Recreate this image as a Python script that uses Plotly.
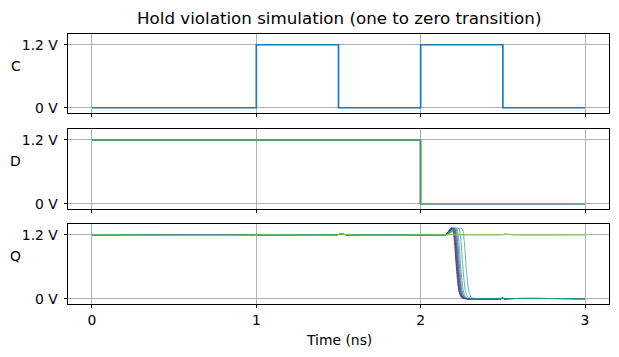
import plotly.graph_objects as go
from plotly.colors import sample_colorscale

# ---------------- data ----------------
title_text = "Hold violation simulation (one to zero transition)"
row_labels = ["C", "D", "Q"]
x_ticks = [0, 1, 2, 3]
y_tick_vals = [0, 1.2]
y_tick_text = ["0 V", "1.2 V"]

# clock
c_t = [0.0, 1.0, 1.0, 1.5, 1.5, 2.0, 2.0, 2.5, 2.5, 3.0]
c_v = [0.0, 0.0, 1.2, 1.2, 0.0, 0.0, 1.2, 1.2, 0.0, 0.0]

# colour positions of the sweep (viridis)
sweep_pos = [0.0, 0.07, 0.13, 0.19, 0.25, 0.31, 0.37, 0.43, 0.49, 0.56, 0.72, 0.85]

# D: time at which each sweep member falls (ns)
d_fall = [1.997, 1.9975, 1.998, 1.9985, 1.999, 1.9995, 2.0, 2.0005, 2.001, 2.0015, 2.002, 2.0025]
d_high = 1.2
d_low = 0.0

# Q: part common to all traces
q_base_t = [0.0, 0.99, 1.0, 1.01, 1.03, 1.49, 1.51, 1.53, 1.56, 1.99, 2.0, 2.01, 2.03]
q_base_v = [1.2, 1.2, 1.21, 1.195, 1.2, 1.2, 1.215, 1.21, 1.2, 1.2, 1.205, 1.2, 1.2]

# Q: per-trace tails after 2.03 ns
q_tail_t = [
    [2.15, 2.185, 2.196, 2.206, 2.218, 2.232, 2.246, 2.27, 2.49, 2.5, 2.51, 2.53, 3.0],
    [2.15, 2.188, 2.199, 2.209, 2.221, 2.235, 2.249, 2.273, 2.49, 2.5, 2.51, 2.53, 3.0],
    [2.15, 2.191, 2.202, 2.212, 2.224, 2.238, 2.252, 2.276, 2.49, 2.5, 2.51, 2.53, 3.0],
    [2.15, 2.194, 2.205, 2.215, 2.227, 2.241, 2.255, 2.279, 2.49, 2.5, 2.51, 2.53, 3.0],
    [2.15, 2.197, 2.208, 2.218, 2.230, 2.244, 2.258, 2.282, 2.49, 2.5, 2.51, 2.53, 3.0],
    [2.15, 2.200, 2.211, 2.221, 2.233, 2.247, 2.261, 2.285, 2.49, 2.5, 2.51, 2.53, 3.0],
    [2.15, 2.205, 2.216, 2.226, 2.238, 2.252, 2.266, 2.290, 2.49, 2.5, 2.51, 2.53, 3.0],
    [2.15, 2.212, 2.223, 2.233, 2.245, 2.259, 2.273, 2.297, 2.49, 2.5, 2.51, 2.53, 3.0],
    [2.15, 2.225, 2.236, 2.246, 2.258, 2.272, 2.286, 2.310, 2.49, 2.5, 2.51, 2.53, 3.0],
    [2.15, 2.245, 2.256, 2.266, 2.278, 2.292, 2.306, 2.330, 2.49, 2.5, 2.51, 2.53, 3.0],
    [2.15, 2.2, 2.25, 2.3, 2.4, 2.45, 2.48, 2.49, 2.495, 2.5, 2.51, 2.56, 3.0],
    [2.15, 2.2, 2.25, 2.3, 2.4, 2.45, 2.48, 2.49, 2.495, 2.5, 2.51, 2.56, 3.0],
]
fall_v = [1.2, 1.33, 1.30, 1.05, 0.55, 0.15, 0.03, 0.0, 0.0, 0.015, -0.01, 0.0, 0.0]
hold_v = [1.2, 1.205, 1.2, 1.2, 1.2, 1.2, 1.2, 1.2, 1.2, 1.2, 1.22, 1.2, 1.2]
q_tail_v = [fall_v] * 10 + [hold_v] * 2

# ---------------- figure ----------------
W, H = 619, 357
ML, MR, MT, MB = 67.5, 9.7, 34.3, 52.7
plot_h = H - MT - MB
plot_w = W - ML - MR

def py(pix):
    return (H - MB - pix) / plot_h

def px(pix):
    return (pix - ML) / plot_w

domains = [
    [py(113.3), 1.0],
    [py(209.3), py(129.3)],
    [0.0, py(224.3)],
]

FONT = "DejaVu Sans"
colors = sample_colorscale("Viridis", sweep_pos)

fig = go.Figure()

fig.add_trace(go.Scatter(x=c_t, y=c_v, mode="lines",
                         line=dict(color="#1f77b4", width=1.7),
                         xaxis="x", yaxis="y", showlegend=False))

for i, td in enumerate(d_fall):
    fig.add_trace(go.Scatter(x=[0.0, td, td, 3.0], y=[d_high, d_high, d_low, d_low],
                             mode="lines", line=dict(color=colors[i], width=0.5),
                             xaxis="x2", yaxis="y2", showlegend=False))

for i in range(len(q_tail_t)):
    fig.add_trace(go.Scatter(x=q_base_t + q_tail_t[i], y=q_base_v + q_tail_v[i],
                             mode="lines",
                             line=dict(color=colors[i], width=0.7, shape="spline", smoothing=0.6),
                             xaxis="x3", yaxis="y3", showlegend=False))

xcommon = dict(range=[-0.146, 3.146], tickvals=x_ticks, ticks="outside", ticklen=3.5,
               tickwidth=0.8, tickcolor="black", showline=True, linecolor="black",
               linewidth=0.8, mirror=True, showgrid=True, gridcolor="#b0b0b0",
               gridwidth=0.8, zeroline=False,
               tickfont=dict(family=FONT, size=13.9, color="black"))
ycommon = dict(range=[-0.1, 1.405], tickvals=y_tick_vals, ticktext=y_tick_text,
               ticks="outside", ticklen=3.5, tickwidth=0.8, tickcolor="black",
               showline=True, linecolor="black", linewidth=0.8, mirror=True,
               showgrid=True, gridcolor="#b0b0b0", gridwidth=0.8, zeroline=False,
               ticklabelstandoff=3,
               tickfont=dict(family=FONT, size=13.9, color="black"))

fig.update_layout(
    width=W, height=H,
    margin=dict(l=ML, r=MR, t=MT, b=MB),
    paper_bgcolor="white", plot_bgcolor="white",
    xaxis=dict(**xcommon, anchor="y", showticklabels=False),
    xaxis2=dict(**xcommon, anchor="y2", matches="x", showticklabels=False),
    xaxis3=dict(**xcommon, anchor="y3", matches="x", showticklabels=True),
    yaxis=dict(**ycommon, domain=domains[0], anchor="x"),
    yaxis2=dict(**ycommon, domain=domains[1], anchor="x2"),
    yaxis3=dict(**ycommon, domain=domains[2], anchor="x3"),
)

annotations = [
    dict(text=title_text, x=0.5, y=py(18), xref="paper", yref="paper",
         xanchor="center", yanchor="middle", showarrow=False,
         font=dict(family=FONT, size=16.7, color="black")),
    dict(text="Time (ns)", x=0.5, y=py(340), xref="paper", yref="paper",
         xanchor="center", yanchor="middle", showarrow=False,
         font=dict(family=FONT, size=13.9, color="black")),
]
for lab, ypix in zip(row_labels, [66.7, 161.7, 256.7]):
    annotations.append(dict(text=lab, x=px(15), y=py(ypix), xref="paper", yref="paper",
                            xanchor="center", yanchor="middle", showarrow=False,
                            font=dict(family=FONT, size=13.9, color="black")))
fig.update_layout(annotations=annotations)

fig.write_html("out.html", config={"displayModeBar": False},
               post_script="document.body.style.margin='0';")
